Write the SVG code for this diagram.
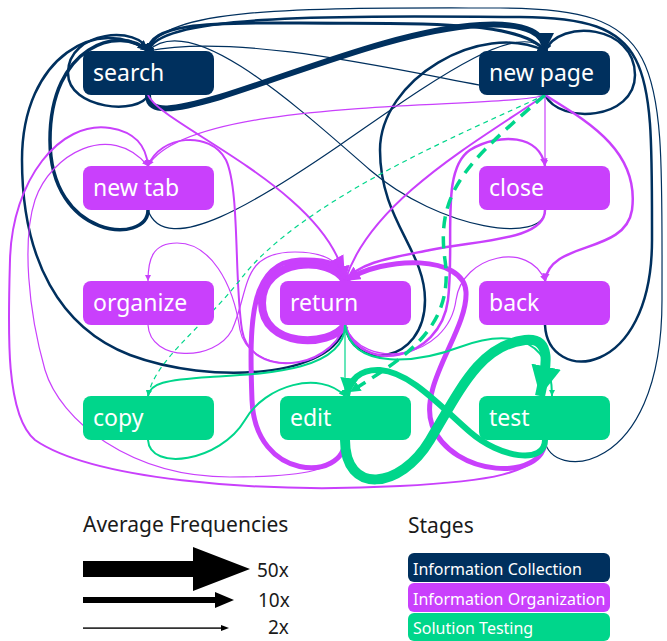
<svg xmlns="http://www.w3.org/2000/svg" width="667" height="641" viewBox="0 0 667 641">
<style>
.n{stroke:#00305e;fill:none}
.p{stroke:#c940fc;fill:none}
.g{stroke:#00d68b;fill:none}
.bn{fill:#00305e}.bp{fill:#c940fc}.bg{fill:#00d68b}
.t{font-family:"Noto Sans","Open Sans",sans-serif;font-size:23px;fill:#fff}
.lt{font-family:"Noto Sans","Open Sans",sans-serif;font-size:21px;fill:#1a1a1a}
.lx{font-family:"Noto Sans","Open Sans",sans-serif;font-size:19px;fill:#1a1a1a}
.st{font-family:"Noto Sans","Open Sans",sans-serif;font-size:16px;fill:#fff}
</style>
<defs>
<marker id="aN" viewBox="0 0 10 10" refX="10" refY="5" markerUnits="strokeWidth" markerWidth="3" markerHeight="3" orient="auto"><path d="M0,0L10,5L0,10z" fill="#00305e"/></marker>
<marker id="aP" viewBox="0 0 10 10" refX="10" refY="5" markerUnits="strokeWidth" markerWidth="3" markerHeight="3" orient="auto"><path d="M0,0L10,5L0,10z" fill="#c940fc"/></marker>
<marker id="aG" viewBox="0 0 10 10" refX="10" refY="5" markerUnits="strokeWidth" markerWidth="3" markerHeight="3" orient="auto"><path d="M0,0L10,5L0,10z" fill="#00d68b"/></marker>
<marker id="sN" viewBox="0 0 10 10" refX="10" refY="5" markerUnits="strokeWidth" markerWidth="5" markerHeight="5" orient="auto"><path d="M0,0L10,5L0,10z" fill="#00305e"/></marker>
<marker id="sP" viewBox="0 0 10 10" refX="10" refY="5" markerUnits="strokeWidth" markerWidth="5" markerHeight="5" orient="auto"><path d="M0,0L10,5L0,10z" fill="#c940fc"/></marker>
<marker id="sG" viewBox="0 0 10 10" refX="10" refY="5" markerUnits="strokeWidth" markerWidth="5" markerHeight="5" orient="auto"><path d="M0,0L10,5L0,10z" fill="#00d68b"/></marker>
</defs>
<g id="connectors">
<!-- navy -->
<path class="n" stroke-width="6" marker-end="url(#aN)" d="M148,95 C148,115 175,110 220,97 C300,72 400,30 480,25 C530,22 545,35 545,51"/>
<path class="n" stroke-width="3" d="M148,51 C150,25 200,22 300,23 C400,24 520,18 545,51"/>
<path class="n" stroke-width="2.5" marker-end="url(#aN)" d="M148,95 C140,115 68,110 68,73 C68,30 140,25 148,51"/>
<path class="n" stroke-width="3.5" marker-end="url(#aN)" d="M148,210 C148,245 50,240 50,140 C50,45 120,25 148,51"/>
<path class="n" stroke-width="2.5" marker-end="url(#aN)" d="M345,325 C335,378 210,385 130,355 C60,328 22,260 22,160 C22,55 100,15 148,51"/>
<path class="n" stroke-width="1.2" marker-end="url(#sN)" d="M545,95 C480,92 260,28 148,51"/>
<path class="n" stroke-width="1.2" marker-end="url(#sN)" d="M545,210 C545,245 440,230 370,170 C290,100 190,10 148,51"/>
<path class="n" stroke-width="2.5" marker-end="url(#aN)" d="M545,325 C548,385 652,380 652,240 C652,60 655,18 520,17 C330,16 160,14 148,51"/>
<path class="n" stroke-width="1.2" marker-end="url(#sN)" d="M545,440 C548,480 662,480 662,300 C662,60 670,8 500,8 C320,8 160,5 148,51"/>
<path class="n" stroke-width="2.5" marker-end="url(#aN)" d="M545,95 C560,125 635,120 635,75 C635,25 560,18 545,51"/>
<path class="n" stroke-width="1.2" marker-end="url(#sN)" d="M148,210 C165,260 260,200 340,145 C420,90 520,15 545,51"/>
<path class="n" stroke-width="2.5" marker-end="url(#aN)" d="M345,325 C352,372 425,365 425,300 C425,250 380,220 380,150 C380,80 480,20 545,51"/>
<!-- purple -->
<path class="p" stroke-width="2" marker-end="url(#aP)" d="M148,95 C160,125 330,190 345,281"/>
<path class="p" stroke-width="2" marker-end="url(#aP)" d="M545,95 C480,140 370,200 345,281"/>
<path class="p" stroke-width="8" marker-end="url(#aP)" d="M345,325 C330,348 262,348 262,303 C262,258 330,255 345,281"/>
<path class="p" stroke-width="5" marker-end="url(#aP)" d="M345,440 C345,482 255,482 252,400 C249,320 250,262 300,260 C330,259 342,265 345,281"/>
<path class="p" stroke-width="5" marker-end="url(#aP)" d="M545,440 C545,482 452,478 432,425 C418,385 468,330 466,292 C464,255 385,255 345,281"/>
<path class="p" stroke-width="1.2" marker-end="url(#sP)" d="M148,325 C150,362 215,362 232,330 C250,290 240,252 295,252 C330,252 342,265 345,281"/>
<path class="p" stroke-width="1.2" marker-end="url(#sP)" d="M345,325 C325,378 248,372 240,330 C233,282 210,243 177,243 C152,243 148,260 148,281"/>
<path class="p" stroke-width="2" marker-end="url(#aP)" d="M345,325 C328,372 250,378 242,330 C234,280 240,190 226,160 C210,130 160,135 148,166"/>
<path class="p" stroke-width="1.2" marker-end="url(#sP)" d="M545,95 C500,110 190,95 148,166"/>
<path class="p" stroke-width="1.2" marker-end="url(#sP)" d="M345,440 C345,472 300,477 230,477 C130,477 60,420 45,370 C28,310 22,240 35,200 C50,155 110,120 148,166"/>
<path class="p" stroke-width="2" marker-end="url(#aP)" d="M545,440 C545,475 480,482 400,486 C250,494 90,478 35,440 C5,415 8,330 10,260 C12,180 60,120 110,128 C135,132 146,145 148,166"/>
<path class="p" stroke-width="1.2" marker-end="url(#sP)" d="M545,95 L545,166"/>
<path class="p" stroke-width="2.5" marker-end="url(#aP)" d="M345,325 C360,375 440,362 448,300 C455,240 440,170 470,150 C500,132 540,135 545,166"/>
<path class="p" stroke-width="2.5" marker-end="url(#aP)" d="M545,210 C545,240 480,240 430,250 C390,258 360,262 345,281"/>
<path class="p" stroke-width="2.5" marker-end="url(#aP)" d="M545,95 C585,120 640,150 632,210 C625,255 550,240 545,281"/>
<path class="p" stroke-width="1.2" marker-end="url(#sP)" d="M345,325 C362,372 448,360 456,300 C462,255 530,240 545,281"/>
<!-- green -->
<path class="g" stroke-width="1.2" stroke-dasharray="5 4" marker-end="url(#sG)" d="M545,95 C470,130 300,200 240,280 C200,330 155,360 148,396"/>
<path class="g" stroke-width="3.5" stroke-dasharray="12 8" marker-end="url(#aG)" d="M545,95 C470,160 435,190 445,260 C455,330 400,360 350,392"/>
<path class="g" stroke-width="1.2" marker-end="url(#sG)" d="M345,325 L345,396"/>
<path class="g" stroke-width="2" marker-end="url(#aG)" d="M345,325 C345,372 260,374 210,377 C165,380 150,383 148,396"/>
<path class="g" stroke-width="2" marker-end="url(#aG)" d="M148,440 C150,472 220,462 245,420 C265,385 320,370 345,396"/>
<path class="g" stroke-width="2" marker-end="url(#aG)" d="M345,325 C352,372 420,362 460,347 C500,332 552,330 552,396"/>
<path class="g" stroke-width="10" marker-end="url(#aG)" d="M345,440 C345,495 400,490 430,440 C460,390 480,345 525,340 C555,337 545,372 540,396"/>
<path class="g" stroke-width="6" marker-end="url(#aG)" d="M545,440 C545,465 500,458 470,432 C440,406 410,372 380,370 C360,369 349,380 347,396"/>
</g>
<g id="search"><rect class="bn" x="83" y="51" width="131" height="44" rx="8"/><text class="t" x="93" y="81">search</text></g>
<g id="new-page"><rect class="bn" x="479" y="51" width="131" height="44" rx="8"/><text class="t" x="489" y="81">new page</text></g>
<g id="new-tab"><rect class="bp" x="83" y="166" width="131" height="44" rx="8"/><text class="t" x="93" y="196">new tab</text></g>
<g id="close"><rect class="bp" x="479" y="166" width="131" height="44" rx="8"/><text class="t" x="489" y="196">close</text></g>
<g id="organize"><rect class="bp" x="83" y="281" width="131" height="44" rx="8"/><text class="t" x="93" y="311">organize</text></g>
<g id="return"><rect class="bp" x="280" y="281" width="131" height="44" rx="8"/><text class="t" x="290" y="311">return</text></g>
<g id="back"><rect class="bp" x="479" y="281" width="131" height="44" rx="8"/><text class="t" x="489" y="311">back</text></g>
<g id="copy"><rect class="bg" x="83" y="396" width="131" height="44" rx="8"/><text class="t" x="93" y="426">copy</text></g>
<g id="edit"><rect class="bg" x="280" y="396" width="131" height="44" rx="8"/><text class="t" x="290" y="426">edit</text></g>
<g id="test"><rect class="bg" x="479" y="396" width="131" height="44" rx="8"/><text class="t" x="489" y="426">test</text></g>
<g id="legend-frequencies">
<text class="lt" x="83" y="532">Average Frequencies</text>
<polygon points="83,561 193,561 193,547 250,569 193,591 193,577 83,577" fill="#000"/>
<text class="lx" x="257" y="577">50x</text>
<rect x="83" y="597" width="133" height="6" fill="#000"/>
<polygon points="215,592 234,600 215,608" fill="#000"/>
<text class="lx" x="258" y="607">10x</text>
<rect x="83" y="627.4" width="140" height="1.4" fill="#000"/>
<polygon points="221,625 229,628 221,631" fill="#000"/>
<text class="lx" x="268" y="634">2x</text>
</g>
<g id="legend-stages">
<text class="lt" x="408" y="533">Stages</text>
<rect class="bn" x="408" y="553" width="202" height="29" rx="6"/><text class="st" x="413" y="575">Information Collection</text>
<rect class="bp" x="408" y="583" width="202" height="29" rx="6"/><text class="st" x="413" y="605">Information Organization</text>
<rect class="bg" x="408" y="613" width="202" height="28" rx="6"/><text class="st" x="413" y="634">Solution Testing</text>
</g>
</svg>
